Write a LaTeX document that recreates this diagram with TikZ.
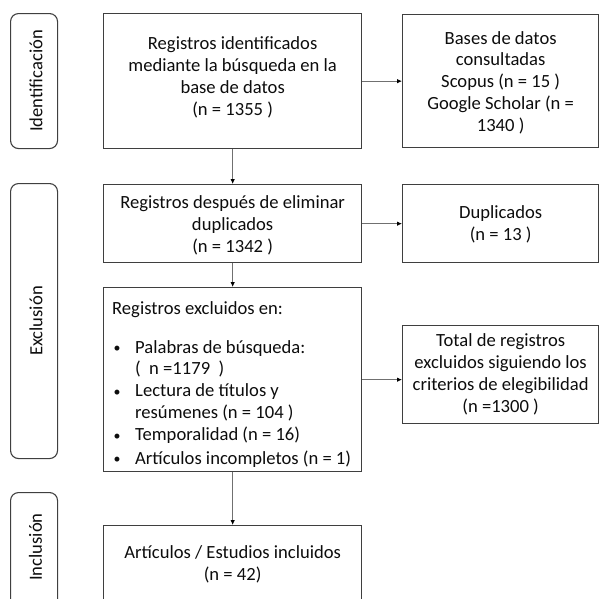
\documentclass[tikz,border=0pt]{standalone}
\usepackage{fontspec}
\setmainfont{Carlito}
\usetikzlibrary{arrows.meta,calc}
\definecolor{boxgray}{HTML}{3F3F3F}
\definecolor{arrgray}{HTML}{707070}
\definecolor{txtcol}{HTML}{0D0D0D}
\newcommand{\smbul}{\makebox[23pt][l]{\hspace*{1.5pt}\raisebox{0.5pt}{\scalebox{0.75}{\textbullet}}}}
\begin{document}
\begin{tikzpicture}[x=1pt,y=-1pt,
  box/.style={draw=boxgray, line width=1.3pt, inner sep=0pt, anchor=north west},
  lab/.style={draw=boxgray, line width=1.1pt, rounded corners=8pt, inner sep=0pt, anchor=north west},
  txt/.style={align=center, font=\fontsize{18.6}{21.9}\selectfont, text=txtcol, inner sep=0pt},
  arr/.style={draw=arrgray, line width=0.8pt, -{Latex[length=5pt,width=4.5pt,color=black]}}]
\useasboundingbox (0,0) rectangle (599,598);
% stage labels
\node[lab, minimum width=47, minimum height=135] (l1) at (10,13) {};
\node[lab, minimum width=47, minimum height=275] (l2) at (10,183) {};
\node[lab, minimum width=47, minimum height=120] (l3) at (10,492) {};
\node[txt, rotate=90] (t1) at ($(l1.center)+(2,0)$) {Identificación};
\node[txt, rotate=90] (t2) at ($(l2.center)+(2,0)$) {Exclusión};
\node[txt, rotate=90] (t3) at (35.5,547) {Inclusión};
% boxes
\node[box, minimum width=258, minimum height=135] (b1) at (103,13) {};
\node[txt] (tb1) at ($(b1.center)+(0,-4)$) {Registros identificados\\mediante la búsqueda en la\\base de datos\\(n = 1355 )};
\node[box, minimum width=196, minimum height=133] (b2) at (402,14) {};
\node[txt] (tb2) at ($(b2.center)+(0,1.5)$) {Bases de datos\\consultadas\\Scopus (n = 15 )\\Google Scholar (n =\\1340 )};
\node[box, minimum width=258, minimum height=78] (b3) at (103,184) {};
\node[txt] (tb3) at ($(b3.center)+(0,2)$) {Registros después de eliminar\\duplicados\\(n = 1342 )};
\node[box, minimum width=196, minimum height=78] (b4) at (402,184) {};
\node[txt] (tb4) at ($(b4.center)+(0,1)$) {Duplicados\\(n = 13 )};
\node[box, minimum width=258, minimum height=184] (b5) at (103,287) {};
\node[txt, align=left, anchor=north west] (tb5) at (112,301) {Registros excluidos en:\\[17pt]
\smbul Palabras de búsqueda:\\
\hspace*{23pt}(\ \ n =1179\ \ )\\
\smbul Lectura de títulos y\\
\hspace*{23pt}resúmenes (n = 104 )\\
\smbul Temporalidad (n = 16)\\[1.5pt]
\smbul Artículos incompletos (n = 1)};
\node[box, minimum width=196, minimum height=98] (b6) at (402,325) {};
\node[txt] (tb6) at (b6.center) {Total de registros\\excluidos siguiendo los\\criterios de elegibilidad\\(n =1300 )};
\node[box, minimum width=258, minimum height=80] (b7) at (103,525) {};
\node[txt] (tb7) at ($(b7.center)+(0,-1)$) {Artículos / Estudios incluidos\\(n = 42)};
% connectors
\draw[arr] (b1.south) -- (b3.north);
\draw[arr] (b1.east) -- (b2.west);
\draw[arr] (b3.east) -- (b4.west);
\draw[arr] (b3.south) -- (b5.north);
\coordinate (c6) at (b6.west |- b5.east);
\draw[arr] (b5.east) -- (c6);
\draw[arr] (b5.south) -- (b7.north);
\end{tikzpicture}
\end{document}
